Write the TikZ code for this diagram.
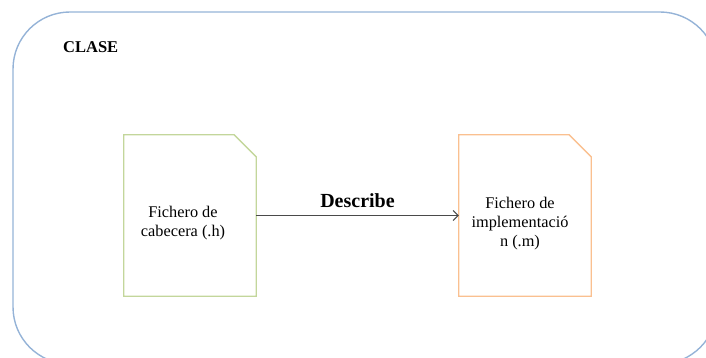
\documentclass[tikz,border=0pt]{standalone}
\usepackage{fontspec}
\setmainfont{Liberation Serif}
\usetikzlibrary{arrows.meta}
\definecolor{frameblue}{HTML}{95B3D7}
\definecolor{hgreen}{HTML}{C3D69B}
\definecolor{morange}{HTML}{FAC090}
\definecolor{linkgray}{HTML}{4A4A4A}
\tikzset{
  docbox/.style={minimum width=132pt, minimum height=161pt, inner sep=0pt},
  doctext/.style={align=center, font=\fontsize{16.3}{19}\selectfont, inner sep=0pt},
  docline/.style={line width=1.3pt},
  link/.style={draw=linkgray, line width=1pt, -{Straight Barb[length=5pt,width=10pt]}}
}
\begin{document}
\begin{tikzpicture}[x=1pt,y=-1pt]
  \useasboundingbox (0,0) rectangle (706,358);
  \begin{scope}
    \clip (0,0) rectangle (706,358);
    % outer class frame (runs past the page on the right and bottom)
    \draw[frameblue, line width=1.4pt, rounded corners=57pt] (13,12) rectangle (717,364);
  \end{scope}
  \node[font=\bfseries\fontsize{16.5}{19}\selectfont, anchor=base west, inner sep=0pt] (clase) at (63,53) {CLASE};

  % header file
  \node[docbox] (hdoc) at (190,215.5) {};
  \draw[docline, hgreen] (hdoc.north west) -- ([xshift=-22pt]hdoc.north east)
    -- ([yshift=-22pt]hdoc.north east) -- (hdoc.south east) -- (hdoc.south west) -- cycle;
  \node[doctext] (htext) at ([xshift=-7pt,yshift=-8pt]hdoc.center) {Fichero de\\cabecera (.h)};

  % implementation file
  \node[docbox] (mdoc) at (525,215.5) {};
  \draw[docline, morange] (mdoc.north west) -- ([xshift=-22pt]mdoc.north east)
    -- ([yshift=-22pt]mdoc.north east) -- (mdoc.south east) -- (mdoc.south west) -- cycle;
  \node[doctext] (mtext) at ([xshift=-5pt,yshift=-8pt]mdoc.center) {Fichero de\\implementació\\n (.m)};

  % relation
  \draw[link] (hdoc.east) -- node[above=4pt, font=\bfseries\fontsize{20}{24}\selectfont] (rel) {Describe} (mdoc.west);
\end{tikzpicture}
\end{document}
